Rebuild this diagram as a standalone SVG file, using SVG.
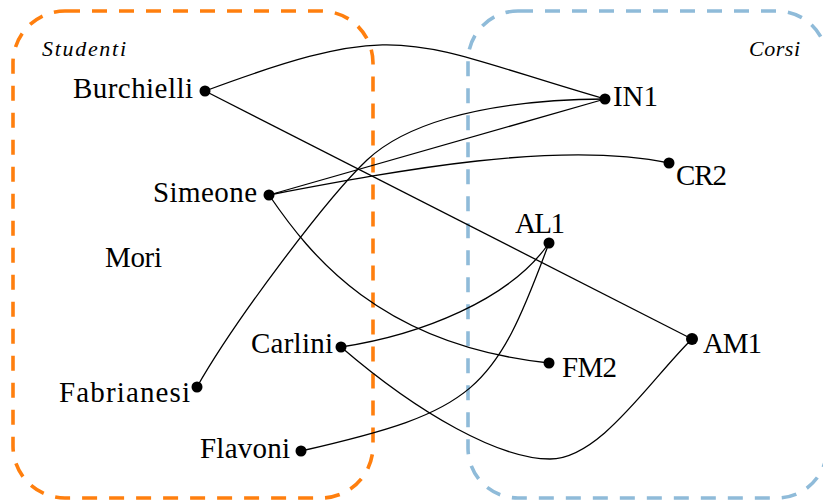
<svg xmlns="http://www.w3.org/2000/svg" width="823" height="503" viewBox="0 0 823 503">
<style>
.bg{fill:#fff}
.box{fill:none;stroke-width:3.6;stroke-dasharray:15 12}
.stu{stroke:#ff7f0e}
.cor{stroke:#8fbbd9}
.e{fill:none;stroke:#000;stroke-width:1.3}
.dot{fill:#000}
.lbl{font-family:"Liberation Serif","Times New Roman",serif;font-size:29px;fill:#000}
.ttl{font-family:"Liberation Serif","Times New Roman",serif;font-size:22px;font-style:italic;fill:#000}
</style>
<rect class="bg" x="0" y="0" width="823" height="503"/>
<g id="group-studenti">
<rect class="box stu" x="13" y="11" width="360" height="487" rx="52" ry="52"/>
<text class="ttl" x="42" y="56" textLength="84" lengthAdjust="spacing">Studenti</text>
</g>
<g id="group-corsi">
<rect class="box cor" x="468" y="11" width="359" height="487" rx="50" ry="50"/>
<text class="ttl" x="800" y="56" text-anchor="end" textLength="51" lengthAdjust="spacing">Corsi</text>
</g>
<g id="connectors">
<path class="e" d="M205,91 C405,17 405,41 605,99"/>
<path class="e" d="M205,91 L692,339"/>
<path class="e" d="M269,195 L605,99"/>
<path class="e" d="M269,195 C400,170 560,140 669,163"/>
<path class="e" d="M269,195 C310,255 380,345 549,363"/>
<path class="e" d="M197,387 C235,320 327,198 367,160 C400,129 470,100 605,99"/>
<path class="e" d="M341,347 C420,335 510,300 549,243"/>
<path class="e" d="M341,347 C420,415 500,459 550,459 C600,459 650,380 692,339"/>
<path class="e" d="M301,451 C476,411 494,392 549,243"/>
</g>
<g id="node-burchielli"><circle class="dot" cx="205" cy="91" r="5.5"/><text class="lbl" x="193" y="98" text-anchor="end" textLength="120" lengthAdjust="spacing">Burchielli</text></g>
<g id="node-simeone"><circle class="dot" cx="269" cy="195" r="5.5"/><text class="lbl" x="257" y="202" text-anchor="end" textLength="104" lengthAdjust="spacing">Simeone</text></g>
<g id="node-mori"><text class="lbl" x="105" y="267" textLength="57" lengthAdjust="spacing">Mori</text></g>
<g id="node-fabrianesi"><circle class="dot" cx="197" cy="387" r="5.5"/><text class="lbl" x="190" y="402" text-anchor="end" textLength="131" lengthAdjust="spacing">Fabrianesi</text></g>
<g id="node-carlini"><circle class="dot" cx="341" cy="347" r="5.5"/><text class="lbl" x="333" y="353" text-anchor="end" textLength="82" lengthAdjust="spacing">Carlini</text></g>
<g id="node-flavoni"><circle class="dot" cx="301" cy="451" r="5.5"/><text class="lbl" x="290" y="458" text-anchor="end" textLength="90" lengthAdjust="spacing">Flavoni</text></g>
<g id="node-in1"><circle class="dot" cx="605" cy="99" r="5.5"/><text class="lbl" x="613" y="106" textLength="45" lengthAdjust="spacing">IN1</text></g>
<g id="node-cr2"><circle class="dot" cx="669" cy="163" r="5.5"/><text class="lbl" x="676" y="185" textLength="51" lengthAdjust="spacing">CR2</text></g>
<g id="node-al1"><circle class="dot" cx="549" cy="243" r="5.5"/><text class="lbl" x="515" y="233" textLength="50" lengthAdjust="spacing">AL1</text></g>
<g id="node-fm2"><circle class="dot" cx="549" cy="363" r="5.5"/><text class="lbl" x="562" y="377" textLength="55" lengthAdjust="spacing">FM2</text></g>
<g id="node-am1"><circle class="dot" cx="692" cy="339" r="6"/><text class="lbl" x="703" y="353" textLength="59" lengthAdjust="spacing">AM1</text></g>
</svg>
